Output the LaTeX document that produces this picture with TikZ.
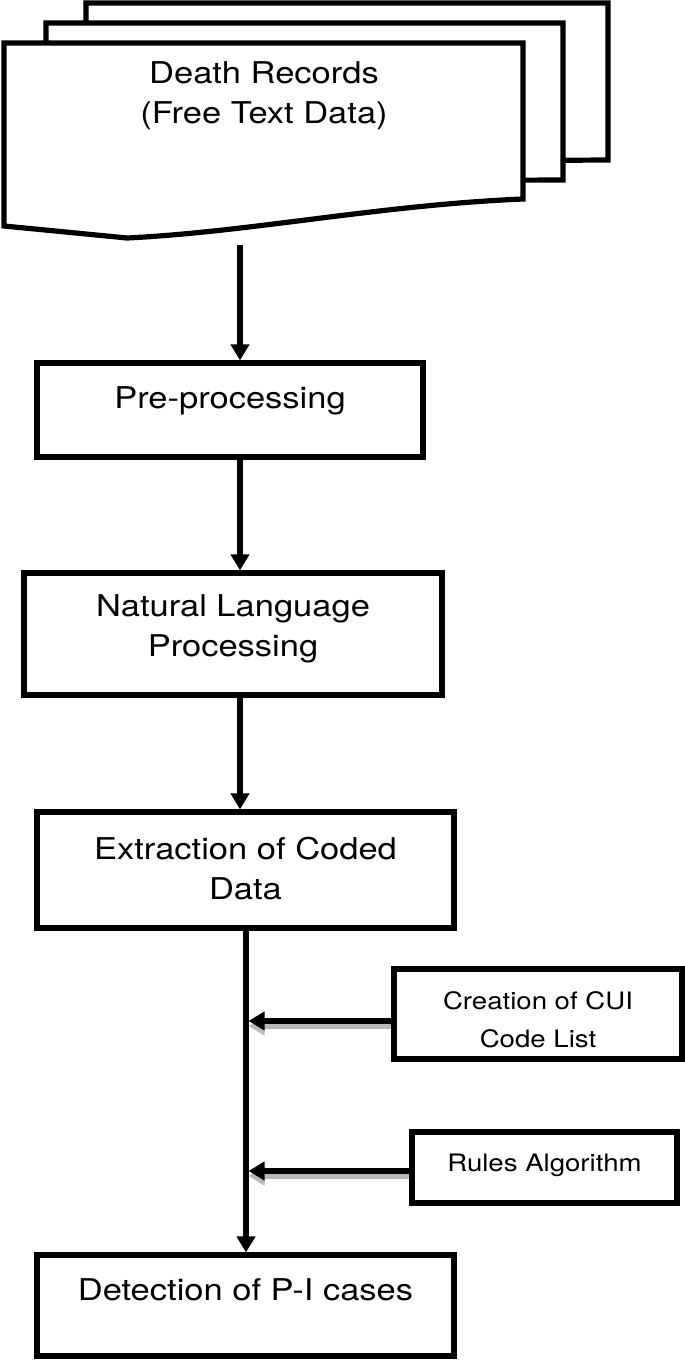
\documentclass[tikz,border=0pt]{standalone}
\usepackage{fontspec}
\setmainfont{TeX Gyre Heros}[FakeStretch=1.15]
\usetikzlibrary{arrows.meta}
\tikzset{
	page/.style={draw, fill=white, line width=2.6pt, line join=miter},
	stepbox/.style={draw, line width=2.6pt, inner sep=0pt},
	bigtxt/.style={align=center, inner sep=0pt, font=\fontsize{15}{20}\selectfont},
	smalltxt/.style={align=center, inner sep=0pt, font=\fontsize{12}{19}\selectfont},
	flow/.style={line width=2.6pt, -{Triangle[length=8pt,width=9pt]}},
	feed/.style={flow, shorten >=1.25pt},
	feedshadow/.style={feed, draw=gray!55, fill=gray!55, transform canvas={yshift=-2.5pt}}
}

\begin{document}
\begin{tikzpicture}[x=0.5pt, y=-0.5pt]
        \useasboundingbox (0,0) rectangle (685,1360);
        \draw[page] (86,3) -- (608,3) -- (608,160) -- (86,163) -- cycle;
        \draw[page] (46,23) -- (563,23) -- (563,180) -- (46,182) -- cycle;
        \draw[page] (4,43) -- (523,43) -- (523,199) .. controls (380,205) and (250,232) .. (127,238) -- (4,226) -- cycle;
        \node[bigtxt] (doc) at (264,96) {Death Records\\(Free Text Data)};
        \coordinate (docbot) at (240,245);
        \coordinate (spine) at (246,940);

        \node[stepbox, minimum width=193pt, minimum height=47pt,
            label={[bigtxt, yshift=4.5pt]center:Pre-processing}] (pre) at (230,410) {};
        \node[stepbox, minimum width=209pt, minimum height=61pt,
            label={[bigtxt, yshift=2.75pt]center:{Natural Language\\Processing}}] (nlp) at (233,634) {};
        \node[stepbox, minimum width=208.5pt, minimum height=58pt,
            label={[bigtxt, yshift=0.75pt]center:{Extraction of Coded\\Data}}] (ext) at (245.5,870) {};
        \node[stepbox, minimum width=144pt, minimum height=45pt,
            label={[smalltxt, yshift=-2.75pt]center:{Creation of CUI\\Code List}}] (cui) at (538,1014) {};
        \node[stepbox, minimum width=132.5pt, minimum height=35.5pt,
            label={[smalltxt, yshift=1.25pt]center:Rules Algorithm}] (rules) at (544.5,1167.5) {};
        \node[stepbox, minimum width=208.5pt, minimum height=50.5pt,
            label={[bigtxt, yshift=8pt]center:Detection of P-I cases}] (det) at (245.5,1305.5) {};

        \draw[flow] (docbot) -- (docbot |- pre.north);
        \draw[flow] (pre.south -| docbot) -- (nlp.north -| docbot);
        \draw[flow] (nlp.south -| docbot) -- (ext.north -| docbot);
        \draw[flow] (ext.south -| spine) -- (det.north -| spine);

        \coordinate (cuiout) at ([yshift=-3.5pt]cui.west);
        \coordinate (rulesout) at ([yshift=-1.75pt]rules.west);
        \draw[feedshadow] (cuiout) -- (cuiout -| spine);
        \draw[feed] (cuiout) -- (cuiout -| spine);
        \draw[feedshadow] (rulesout) -- (rulesout -| spine);
        \draw[feed] (rulesout) -- (rulesout -| spine);
    \end{tikzpicture}
\end{document}
